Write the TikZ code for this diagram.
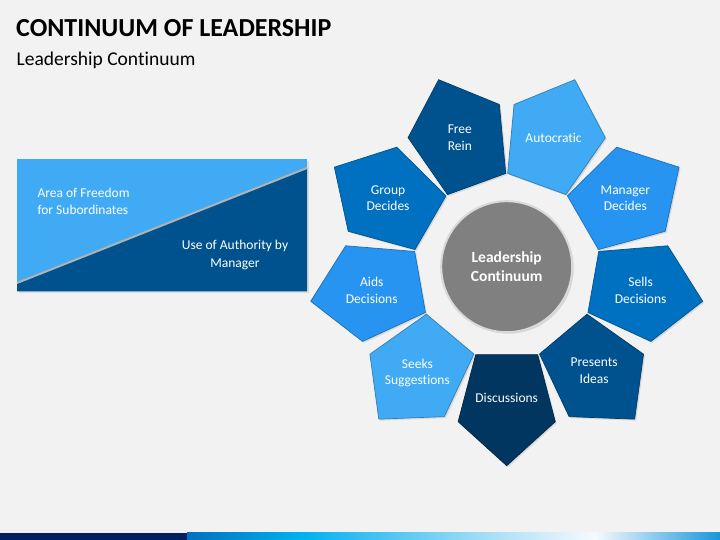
\documentclass[tikz,border=0pt]{standalone}
\usepackage{fontspec}
\setmainfont{Carlito}[Ligatures=NoCommon]
\usepackage{tikz}
\usepackage{xcolor}
\usetikzlibrary{shadows}
\definecolor{bgGray}{RGB}{242,242,242}
\definecolor{skyA}{RGB}{64,170,245}
\definecolor{blueB}{RGB}{40,148,242}
\definecolor{blueC}{RGB}{0,112,192}
\definecolor{blueD}{RGB}{0,82,142}
\definecolor{navyE}{RGB}{0,54,96}
\definecolor{hubGray}{RGB}{128,128,128}
\definecolor{barNavy}{RGB}{0,32,96}
\tikzset{%
  pent/.style={fill=#1, draw=#1!75!black, line width=0.7pt,
    drop shadow={opacity=0.22, shadow xshift=1.5pt, shadow yshift=-1.5pt}},
  pentlabel/.style={text=white, align=center, font=\fontsize{13.5}{16.5}\selectfont},
  boxlabel/.style={text=white, font=\fontsize{13.5}{17.5}\selectfont}
}

\begin{document}
\begin{tikzpicture}[x=1pt,y=1pt]
\fill[bgGray] (0,0) rectangle (720,540);
\useasboundingbox (0,0) rectangle (720,540);
% heading
\node[anchor=base west, inner sep=0, font=\fontsize{26}{30}\selectfont\bfseries] (title) at (16,503.3) {CONTINUUM OF LEADERSHIP};
\node[anchor=base west, inner sep=0, font=\fontsize{19.5}{23}\selectfont] (subtitle) at (16.5,474) {Leadership Continuum};
% freedom / authority box
\fill[skyA, drop shadow={opacity=0.2, shadow xshift=1.5pt, shadow yshift=-1.5pt}] (17,248.5) rectangle (307,380.5);
\fill[blueD] (17,257) -- (307,372) -- (307,248.5) -- (17,248.5) -- cycle;
\draw[gray!60, line width=2pt] (17,257) -- (307,372);
\node[boxlabel, align=left, anchor=west] (freedom) at (34,338.5) {Area of Freedom\\for Subordinates};
\node[boxlabel, align=center] (authority) at (235,285) {Use of Authority by\\Manager};
% wheel
\node[circle, minimum size=131, fill=hubGray, draw=gray!30, line width=2pt,
  drop shadow={opacity=0.25, shadow xshift=1.5pt, shadow yshift=-1.5pt},
  text=white, align=center, font=\fontsize{15.5}{19.5}\selectfont\bfseries] (core) at (506.7,273.3) {Leadership\\Continuum};
\foreach \a/\col/\nm/\r/\txt in {110/blueD/freerein/137/{Free\\Rein},
    70/skyA/autocratic/137/{Autocratic},
    30/blueB/managerdecides/137/{Manager\\Decides},
    -10/blueC/sellsdecisions/136/{Sells\\Decisions},
    -50/blueD/presentsideas/136/{Presents\\Ideas},
    -90/navyE/discussions/131/{Discussions},
    -130/skyA/seekssuggestions/139/{Seeks\\Suggestions},
    -170/blueB/aidsdecisions/137/{Aids\\Decisions},
    150/blueC/groupdecides/137/{Group\\Decides}}
{
  \begin{scope}[shift={(core.center)}]
    \filldraw[pent=\col] ({\a-19.4}:93.3) -- ({\a-17.4}:162.4) -- (\a:199) -- ({\a+17.4}:162.4) -- ({\a+19.4}:93.3) -- cycle;
    \node[pentlabel] (\nm) at (\a:\r) {\txt};
  \end{scope}
}
% bottom strip
\fill[barNavy] (0,0) rectangle (187,7);
\shade[left color={rgb,255:red,0;green,112;blue,192}, right color={rgb,255:red,0;green,176;blue,240}] (187,0) rectangle (300,7);
\shade[left color={rgb,255:red,0;green,176;blue,240}, right color={rgb,255:red,160;green,220;blue,245}] (300,0) rectangle (480,7);
\shade[left color={rgb,255:red,160;green,220;blue,245}, right color={rgb,255:red,246;green,250;blue,252}] (480,0) rectangle (595,7);
\shade[left color={rgb,255:red,246;green,250;blue,252}, right color={rgb,255:red,25;green,150;blue,220}] (595,0) rectangle (720,7);
\end{tikzpicture}
\end{document}
